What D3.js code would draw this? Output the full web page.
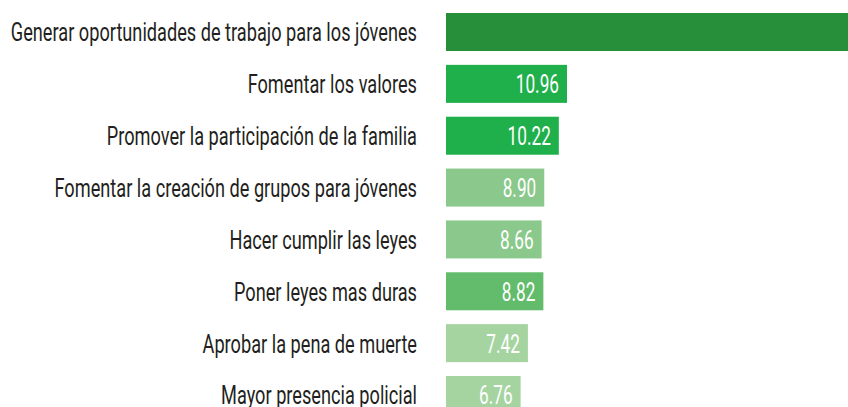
<!DOCTYPE html>
<html lang="es">
	<head>
		<meta charset="utf-8">
		<title>Propuestas</title>
		<script src="https://d3js.org/d3.v7.min.js"></script>
		<style type="text/css">
			body { margin: 0; background: #fff; }
			text {
				font-family: Roboto, "Liberation Sans", sans-serif;
			}
			.label { font-size: 26.5px; fill: #231f20; }
			.value { font-size: 26.5px; fill: #fff; }
		</style>
	</head>
	<body>
		<svg id="chart" width="848" height="407"></svg>

		<script type="text/javascript">

			// propuestas (de arriba a abajo)
			var categories = [
				"Generar oportunidades de trabajo para los jóvenes",
				"Fomentar los valores",
				"Promover la participación de la familia",
				"Fomentar la creación de grupos para jóvenes",
				"Hacer cumplir las leyes",
				"Poner leyes mas duras",
				"Aprobar la pena de muerte",
				"Mayor presencia policial"
			];
			// el primer valor queda fuera del recuadro, estimado
			var values = [43.0, 10.96, 10.22, 8.90, 8.66, 8.82, 7.42, 6.76];
			var colors = ["#278f39", "#1fb04b", "#1fb04b", "#8ac98b", "#8ac98b", "#63bc6b", "#a5d4a1", "#a5d4a1"];

			var svg = d3.select("#chart"),
				w = +svg.attr("width"),
				h = +svg.attr("height");

			// fuente condensada: se comprime en horizontal
			var squeezeLabel = 0.686,
				squeezeValue = 0.65;

			var x = d3.scaleLinear()
						.domain([0, 10])
						.range([446, 446 + 110.4]);

			var y = d3.scaleBand()
						.domain(categories)
						.range([13, 414])
						.paddingInner(0.267)
						.paddingOuter(0);

			var rows = svg.selectAll("g.row")
						.data(categories)
						.enter()
						.append("g")
						.attr("class", "row");

			rows.append("rect")
				.attr("x", x(0))
				.attr("y", function(d) { return y(d); })
				.attr("width", function(d, i) { return x(values[i]) - x(0); })
				.attr("height", y.bandwidth())
				.attr("fill", function(d, i) { return colors[i]; });

			rows.append("text")
				.attr("class", "label")
				.attr("transform", function(d) {
					return "translate(417," + (y(d) + y.bandwidth() / 2) + ") scale(" + squeezeLabel + ",1)";
				})
				.attr("dy", "0.355em")
				.attr("text-anchor", "end")
				.text(function(d) { return d; });

			// la etiqueta de la barra que sale del recuadro no se ve
			rows.filter(function(d, i) { return x(values[i]) <= w; })
				.append("text")
				.attr("class", "value")
				.attr("transform", function(d) {
					var i = categories.indexOf(d);
					return "translate(" + (x(values[i]) - 8) + "," + (y(d) + y.bandwidth() / 2) + ") scale(" + squeezeValue + ",1)";
				})
				.attr("dy", "0.355em")
				.attr("text-anchor", "end")
				.text(function(d) { return values[categories.indexOf(d)].toFixed(2); });

		</script>
	</body>
</html>
